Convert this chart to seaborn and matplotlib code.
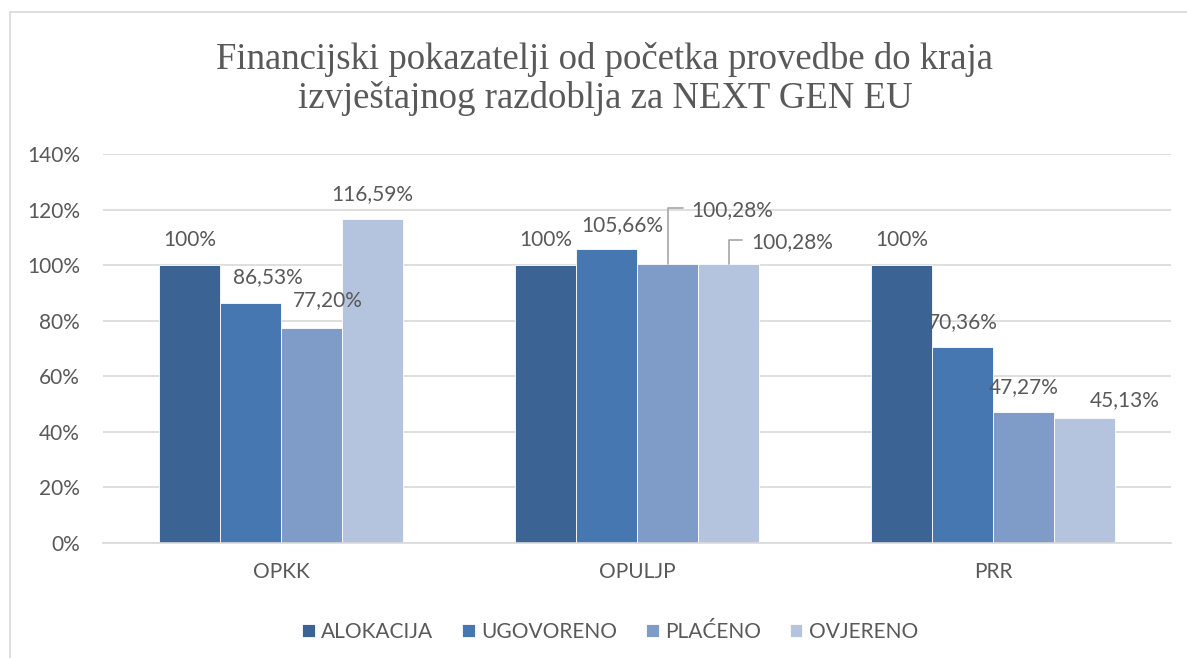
import matplotlib
matplotlib.use("Agg")
import matplotlib.pyplot as plt
import numpy as np
import pandas as pd
import seaborn as sns

# data
categories = ["OPKK", "OPULJP", "PRR"]
series = ["ALOKACIJA", "UGOVORENO", "PLAĆENO", "OVJERENO"]
alokacija = [100.00, 100.00, 100.00]
ugovoreno = [86.53, 105.66, 70.36]
placeno = [77.20, 100.28, 47.27]
ovjereno = [116.59, 100.28, 45.13]
label_text = [
    ["100%", "100%", "100%"],
    ["86,53%", "105,66%", "70,36%"],
    ["77,20%", "100,28%", "47,27%"],
    ["116,59%", "100,28%", "45,13%"],
]
yticks = [0, 20, 40, 60, 80, 100, 120, 140]

colors = ["#3B6494", "#4677B0", "#7E9CC7", "#B4C3DE"]
text_gray = "#595959"
grid_gray = "#D9D9D9"

# label placement (pixels from bar-top centre), default is straight above
label_offsets = {
    (1, 0): (17, 25), (2, 0): (16, 28),
    (1, 1): (16, 24), (2, 1): (65, 54), (3, 1): (63, 22),
    (3, 2): (40, 18),
}
leader = {(2, 1), (3, 1)}

df = pd.DataFrame({
    "kategorija": categories * 4,
    "serija": np.repeat(series, 3),
    "vrijednost": alokacija + ugovoreno + placeno + ovjereno,
})

sns.set_theme(style="white")
plt.rcParams["font.family"] = ["Lato", "DejaVu Sans"]
fs = 15

fig = plt.figure(figsize=(11.87, 6.58), dpi=100)
ax = fig.add_axes([103 / 1187, 115 / 658, 1068 / 1187, 389 / 658])

sns.barplot(data=df, x="kategorija", y="vrijednost", hue="serija",
            hue_order=series, order=categories, palette=colors,
            width=0.687, gap=0, edgecolor="white", linewidth=0.6,
            saturation=1, ax=ax, legend=True)

ax.set_ylim(0, 140)
ax.set_yticks(yticks)
ax.set_yticklabels([f"{t}%" for t in yticks], color=text_gray, fontsize=fs)
ax.tick_params(axis="x", colors=text_gray, labelsize=fs, length=0, pad=14)
ax.tick_params(axis="y", length=0, pad=16.5)
ax.set_xlabel("")
ax.set_ylabel("")
ax.yaxis.grid(True, color=grid_gray, linewidth=1.2)
ax.set_axisbelow(True)
for s in ["top", "right", "left"]:
    ax.spines[s].set_visible(False)
ax.spines["bottom"].set_color(grid_gray)
ax.spines["bottom"].set_linewidth(1.2)

for si, cont in enumerate(ax.containers):
    for ci, bar in enumerate(cont):
        x = bar.get_x() + bar.get_width() / 2
        y = bar.get_height()
        dx, dy = label_offsets.get((si, ci), (0, 25))
        if (si, ci) in leader:
            ax.annotate(label_text[si][ci], xy=(x, y), xytext=(dx, dy),
                        textcoords="offset pixels", ha="center", va="center",
                        fontsize=fs, color=text_gray,
                        arrowprops=dict(arrowstyle="-", color="#A6A6A6", lw=1.2,
                                        connectionstyle="angle,angleA=0,angleB=90,rad=0",
                                        relpos=(0, 0.6), shrinkA=4, shrinkB=0))
        else:
            ax.annotate(label_text[si][ci], xy=(x, y), xytext=(dx, dy),
                        textcoords="offset pixels", ha="center", va="center",
                        fontsize=fs, color=text_gray)

leg = ax.legend(loc="upper center", bbox_to_anchor=(507 / 1068, -0.155), ncol=4,
                frameon=False, fontsize=fs, handlelength=0.6, handleheight=0.6,
                columnspacing=1.4, handletextpad=0.3)
for t in leg.get_texts():
    t.set_color(text_gray)

fig.text(605 / 1187, 1 - 79 / 658, "Financijski pokazatelji od početka provedbe do kraja\n"
         "izvještajnog razdoblja za NEXT GEN EU", ha="center", va="center",
         fontsize=26.5, color=text_gray, family=["Liberation Serif", "DejaVu Serif"],
         linespacing=1.12)

# chart frame (only left and top edge visible in the crop)
fig.add_artist(plt.Line2D([10 / 1187, 10 / 1187], [0, 1 - 12 / 658],
                          transform=fig.transFigure, color=grid_gray, lw=1.2))
fig.add_artist(plt.Line2D([10 / 1187, 1], [1 - 12 / 658, 1 - 12 / 658],
                          transform=fig.transFigure, color=grid_gray, lw=1.2))

fig.savefig("out.png", dpi=100)
